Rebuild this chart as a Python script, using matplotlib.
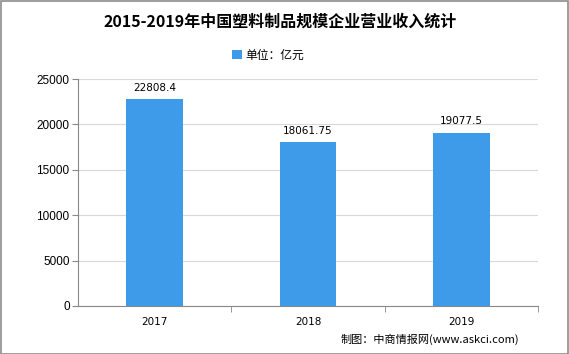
import matplotlib
matplotlib.use("Agg")
import matplotlib.pyplot as plt
from matplotlib.patches import Rectangle

plt.rcParams['font.family'] = ['Noto Sans CJK SC', 'DejaVu Sans']

categories = ['2017', '2018', '2019']
values = [22808.4, 18061.75, 19077.5]
labels = ['22808.4', '18061.75', '19077.5']
yticks = [0, 5000, 10000, 15000, 20000, 25000]

W, H = 569, 354
fig = plt.figure(figsize=(W/100, H/100), dpi=100)
fig.patch.set_facecolor('white')
fig.add_artist(Rectangle((0.5/W, 0.5/H), 1-1.5/W, 1-1.5/H, transform=fig.transFigure,
                         fill=False, edgecolor='#8c8c8c', lw=1.2))

ax = fig.add_axes([78/W, (H-306)/H, (538-78)/W, (306-79)/H])
x = list(range(len(categories)))
color = '#3d9be9'
ax.bar(x, values, width=0.37, color=color, zorder=3, label='单位：亿元')
for xi, v, lab in zip(x, values, labels):
    ax.text(xi, v + 700, lab, ha='center', va='bottom', fontsize=7.5, family='DejaVu Sans')

ax.set_xlim(-0.5, len(categories) - 0.5)
ax.set_ylim(0, 25000)
ax.set_yticks(yticks)
ax.set_yticklabels([str(t) for t in yticks], fontsize=8.5, family='Liberation Sans')
ax.set_xticks(x)
ax.set_xticklabels(categories, fontsize=7.5, family='DejaVu Sans')
ax.tick_params(axis='x', length=0, pad=8)
ax.set_xticks([i + 0.5 for i in range(len(categories))], minor=True)
ax.tick_params(axis='x', which='minor', length=4, color='#888888')
ax.tick_params(axis='y', length=4, color='#888888', pad=2)
ax.grid(axis='y', color='#d9d9d9', lw=0.8, zorder=0)
for s in ['top', 'right']:
    ax.spines[s].set_visible(False)
for s in ['left', 'bottom']:
    ax.spines[s].set_color('#888888')

fig.text(280/W, 1 - 22/H, '2015-2019年中国塑料制品规模企业营业收入统计', ha='center', va='center',
         fontsize=11.5, fontweight='bold')
leg = fig.legend(loc='center', bbox_to_anchor=(268/W, 1 - 55/H), frameon=False,
                 fontsize=8.5, handlelength=0.8, handleheight=0.8, handletextpad=0.3)
fig.text(519/W, 1 - 339/H, '制图：中商情报网(www.askci.com)', ha='right', va='center', fontsize=8,
         family=['Noto Sans CJK SC', 'DejaVu Sans'])

fig.savefig('out.png', dpi=100)
